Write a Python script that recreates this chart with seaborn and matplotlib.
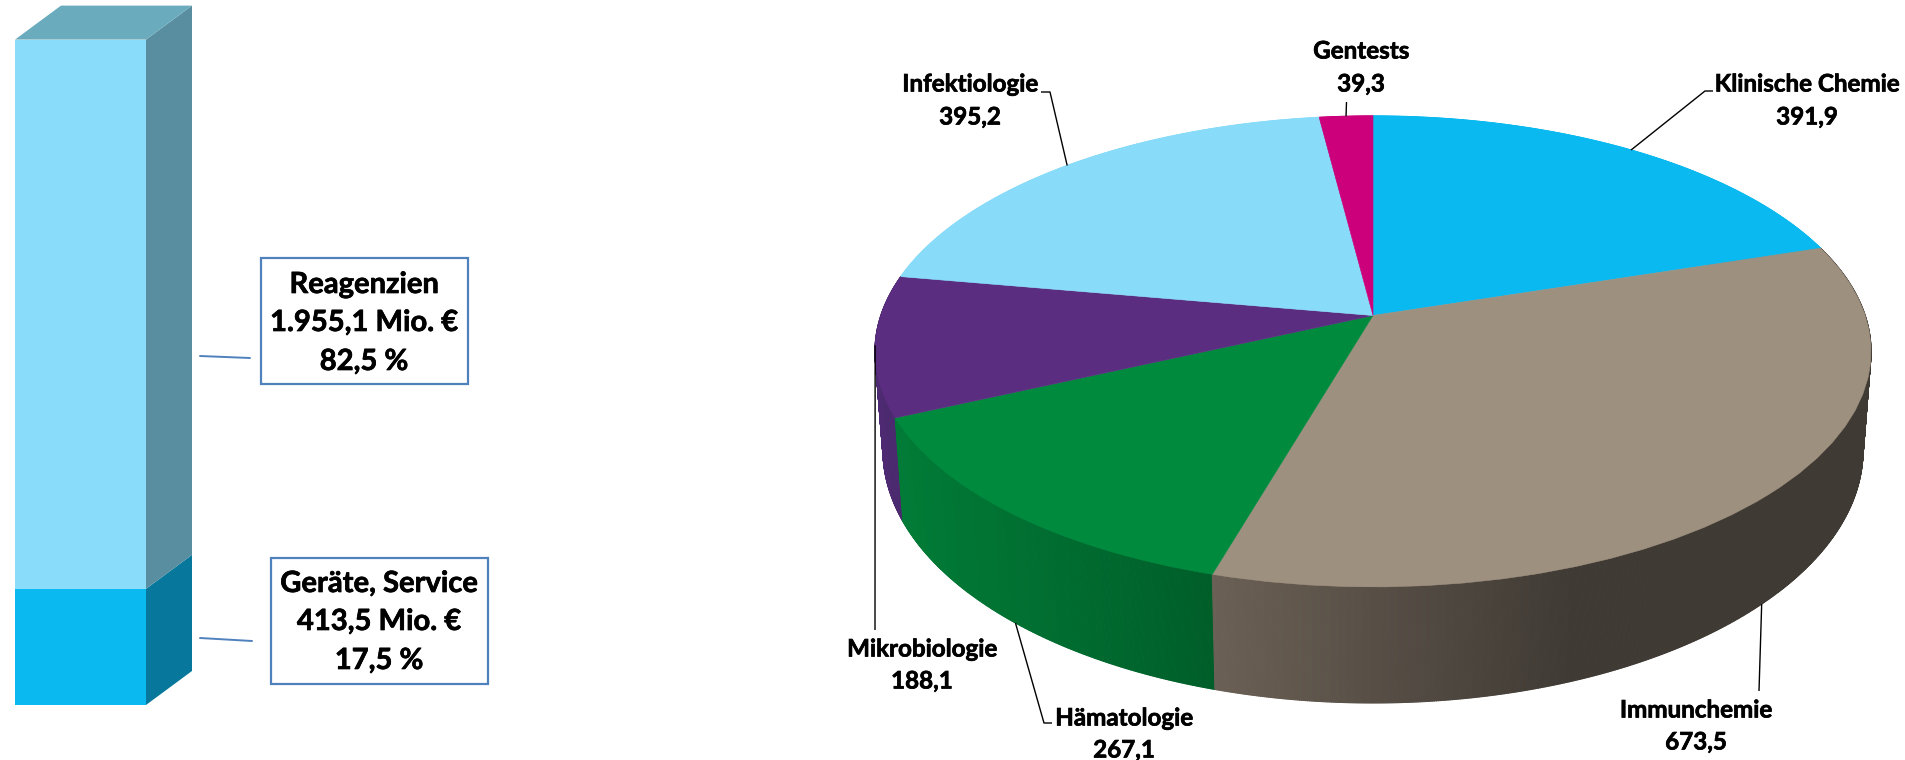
import numpy as np
import matplotlib
matplotlib.use("Agg")
import matplotlib.pyplot as plt
import matplotlib.patheffects as pe
import seaborn as sns
from matplotlib.collections import PolyCollection
from matplotlib.patches import Rectangle
from matplotlib.path import Path
from matplotlib.transforms import Transform, Affine2D

# ---------- data ----------
bar_labels = ["Geräte, Service", "Reagenzien"]
bar_values = [413.5, 1955.1]
bar_percent = ["17,5 %", "82,5 %"]
bar_amount = ["413,5 Mio. €", "1.955,1 Mio. €"]
bar_front = ["#09B9EF", "#89DCFA"]
bar_side = ["#07789C", "#588E9F"]
bar_top = "#6AABBE"

pie_labels = ["Klinische Chemie", "Immunchemie", "Hämatologie", "Mikrobiologie", "Infektiologie", "Gentests"]
pie_values = [391.9, 673.5, 267.1, 188.1, 395.2, 39.3]
pie_text = ["391,9", "673,5", "267,1", "188,1", "395,2", "39,3"]
pie_colors = ["#09B9EF", "#9E907F", "#008A3E", "#5B2D80", "#89DCF9", "#CC007A"]
side_left = ["#09B9EF", "#6B6055", "#017C37", "#4E2A72", "#89DCF9", "#CC007A"]
side_right = ["#09B9EF", "#3F3A34", "#005E29", "#4A2A6E", "#89DCF9", "#CC007A"]

W, H = 1905, 760
sns.set_theme(style="white")
plt.rcParams["font.family"] = ["Lato", "DejaVu Sans"]
plt.rcParams["font.weight"] = "bold"
fig = plt.figure(figsize=(W / 100, H / 100), dpi=100, facecolor="white")
HEAVY = [pe.withStroke(linewidth=0.5, foreground="black")]

# ---------- perspective map of the unit pie disc onto the picture ----------
class Persp(Transform):
    input_dims = output_dims = 2
    is_affine = False
    has_inverse = False

    def __init__(self, cx, cy, A, B, k):
        super().__init__()
        self.p = (cx, cy, A, B, k)

    def transform_non_affine(self, values):
        cx, cy, A, B, k = self.p
        v = np.asarray(values, float)
        w = 1 + k * v[:, 1]
        return np.column_stack([cx + A * v[:, 0] / w, cy - B * v[:, 1] / w])

    def transform_path_non_affine(self, path):
        polys = path.transformed(Affine2D().scale(300)).to_polygons(closed_only=False)
        verts = np.concatenate(polys) / 300
        codes = np.full(len(verts), Path.LINETO)
        codes[0] = Path.MOVETO
        return Path(self.transform_non_affine(verts), codes)


top_map = Persp(1373, 315.5, 492.2, 230.0, 0.1525)
bot_map = Persp(1373, 411.4, 484.3, 247.1, 0.1525)

# ---------- stacked 3-D column ----------
ax_bar = fig.add_axes([0, 0, 1, 1], facecolor="none")
total = sum(bar_values)
sns.barplot(x=[0], y=[total], color=bar_front[1], saturation=1, width=0.8, ax=ax_bar, linewidth=0)
sns.barplot(x=[0], y=[bar_values[0]], color=bar_front[0], saturation=1, width=0.8, ax=ax_bar, linewidth=0)
px_x = 131 / 0.8
px_y = (705 - 39.6) / total
ax_bar.set_xlim(-80.5 / px_x, (W - 80.5) / px_x)
ax_bar.set_ylim(-(H - 705) / px_y, total + 39.6 / px_y)
dx, dy = 46 / px_x, 34 / px_y
xr = 0.4
lows = [0, bar_values[0]]
highs = [bar_values[0], total]
for lo, hi, c in zip(lows, highs, bar_side):
    ax_bar.fill([xr, xr + dx, xr + dx, xr], [lo, lo + dy, hi + dy, hi], color=c, lw=0)
ax_bar.fill([-xr, xr, xr + dx, -xr + dx], [total, total, total + dy, total + dy], color=bar_top, lw=0)
ax_bar.axis("off")

# ---------- 3-D pie ----------
ax = fig.add_axes([0, 0, 1, 1], facecolor="none")
angles = np.concatenate([[0], np.cumsum(pie_values)]) / sum(pie_values) * 2 * np.pi


def unit(t):
    return np.column_stack([np.sin(t), np.cos(t)])


polys, cols, keys = [], [], []
for i in range(len(pie_values)):
    n = max(2, int(np.degrees(angles[i + 1] - angles[i]) * 5) + 1)
    t = np.linspace(angles[i], angles[i + 1], n + 1)
    a = top_map.transform_non_affine(unit(t))
    b = bot_map.transform_non_affine(unit(t))
    c0 = np.array(matplotlib.colors.to_rgb(side_left[i]))
    c1 = np.array(matplotlib.colors.to_rgb(side_right[i]))
    lo, hi = a[:, 0].min(), a[:, 0].max()
    if pie_labels[i] == "Immunchemie":
        hi = lo + 0.55 * (hi - lo)
    for j in range(n):
        polys.append([a[j], a[j + 1], b[j + 1], b[j]])
        f = np.clip((a[j, 0] - lo) / max(hi - lo, 1), 0, 1)
        cols.append(c0 + (c1 - c0) * f)
        keys.append(b[j, 1])
order = np.argsort(keys)
ax.add_collection(PolyCollection([polys[o] for o in order], facecolors=[cols[o] for o in order],
                                 edgecolors=[cols[o] for o in order], linewidths=0.8))

wedges, _ = ax.pie(pie_values, colors=pie_colors, startangle=90, counterclock=False, frame=True,
                   wedgeprops=dict(linewidth=0.4))
for w_, c in zip(wedges, pie_colors):
    w_.set_edgecolor(c)
    w_.set_transform(top_map + ax.transData)
ax.set_aspect("auto")
ax.set_xlim(0, W)
ax.set_ylim(H, 0)
ax.axis("off")

# ---------- pie labels and leaders ----------
mid = (angles[:-1] + angles[1:]) / 2
anchors = []
for i, m in enumerate(mid):
    mp = bot_map if pie_labels[i] in ("Hämatologie", "Immunchemie") else top_map
    anchors.append(mp.transform_non_affine(unit(np.array([m])))[0])
elbows = [[(1705, 91), (1713, 91)], [(1759, 691)], [(1044, 723), (1052, 723)],
          [(875, 630)], [(1050, 92), (1041, 92)], [(1346.5, 102)]]
label_pos = [(1807, 84, 117), (1696, 710, 742), (1124, 718, 750),
             (922, 649, 681), (970, 84, 117), (1361, 51, 84)]
FS = 17.4
for i in range(len(pie_labels)):
    pts = np.vstack([anchors[i], elbows[i]])
    ax.plot(pts[:, 0], pts[:, 1], color="black", lw=1.0, solid_capstyle="butt", clip_on=False)
    xc, y1, y2 = label_pos[i]
    for y, s in ((y1, pie_labels[i]), (y2, pie_text[i])):
        ax.text(xc, y, s, ha="center", va="center", fontsize=FS, color="black", weight="bold",
                path_effects=HEAVY)

# ---------- callout boxes ----------
boxes = [(271, 558, 217, 126, 379, (584, 622, 661), (200, 638, 252, 641)),
         (261, 258, 207, 126, 364, (285, 323, 362), (200, 356, 250, 358))]
BLUE = "#4F81BD"
for idx, (x0, y0, w, h, xc, ys, ln) in enumerate(boxes):
    ax.add_patch(Rectangle((x0, y0), w, h, fill=False, edgecolor=BLUE, lw=1.6))
    ax.plot([ln[0], ln[2]], [ln[1], ln[3]], color=BLUE, lw=1.4)
    rows = [bar_labels[idx], bar_amount[idx], bar_percent[idx]]
    for y, s in zip(ys, rows):
        ax.text(xc, y, s, ha="center", va="center", fontsize=21, color="black", weight="bold",
                path_effects=HEAVY)

fig.savefig("out.png", dpi=100, facecolor="white")
